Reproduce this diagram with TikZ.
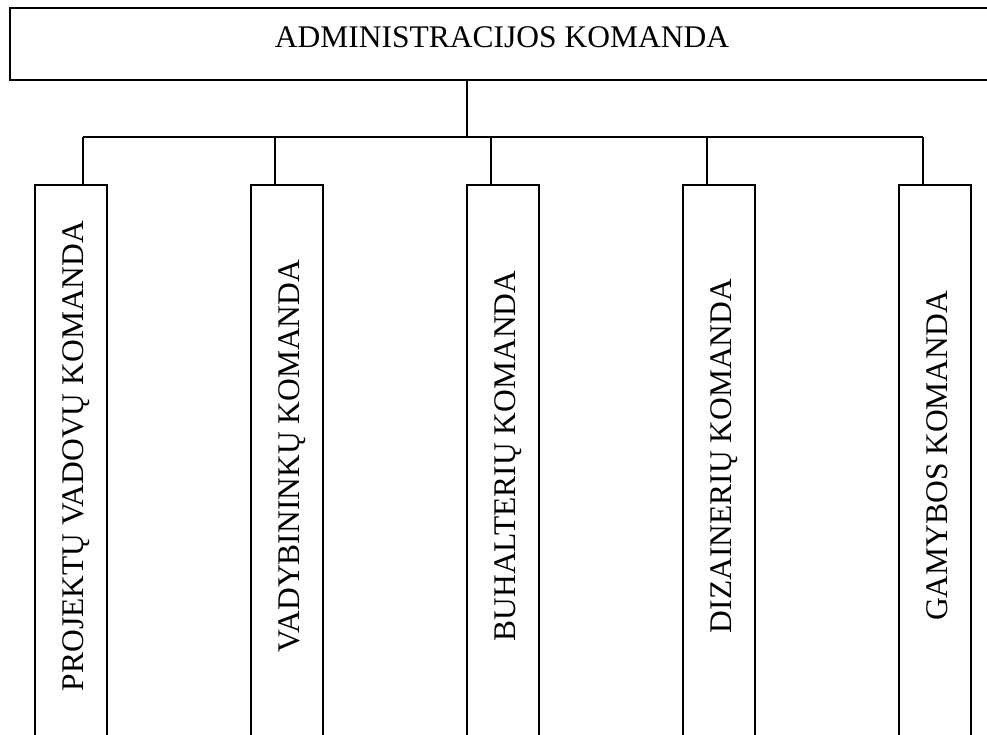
\documentclass[tikz,border=0pt]{standalone}
\usepackage{fontspec}
\setmainfont{Liberation Serif}
\begin{document}
\begin{tikzpicture}[x=1pt,y=-1pt,
  box/.style={draw=black,line width=1.6pt,inner sep=0pt},
  topbox/.style={box,minimum width=984pt,minimum height=72pt},
  team/.style={box,minimum width=72pt,minimum height=585pt},
  lbl/.style={inner sep=0pt,anchor=base,font=\fontsize{31.5}{36}\selectfont},
  vlbl/.style={lbl,rotate=90},
  link/.style={draw=black,line width=1.6pt}]
\useasboundingbox (0,0) rectangle (987,735);
\clip (0,0) rectangle (987,735);
\node[topbox] (top) at (502,44) {};
\node[lbl] (topl) at (502,47.5) {ADMINISTRACIJOS KOMANDA};
\coordinate (bus) at (467,137);
\node[team] (t1) at (71,477.5) {};
\node[team] (t2) at (287,477.5) {};
\node[team] (t3) at (503,477.5) {};
\node[team] (t4) at (719,477.5) {};
\node[team] (t5) at (935,477.5) {};
\node[vlbl] (l1) at (83.5,456) {PROJEKTŲ VADOVŲ KOMANDA};
\node[vlbl] (l2) at (299.5,456) {VADYBININKŲ KOMANDA};
\node[vlbl] (l3) at (515.5,456) {BUHALTERIŲ KOMANDA};
\node[vlbl] (l4) at (731.5,456) {DIZAINERIŲ KOMANDA};
\node[vlbl] (l5) at (947.5,456) {GAMYBOS KOMANDA};
\coordinate (b1) at (83,137);
\coordinate (b2) at (275,137);
\coordinate (b3) at (491,137);
\coordinate (b4) at (707,137);
\coordinate (b5) at (923,137);
\draw[link] (top.south -| bus) -- (bus);
\draw[link] (b1) -- (b5);
\draw[link] (b1) -- (b1 |- t1.north);
\draw[link] (b2) -- (b2 |- t2.north);
\draw[link] (b3) -- (b3 |- t3.north);
\draw[link] (b4) -- (b4 |- t4.north);
\draw[link] (b5) -- (b5 |- t5.north);
\end{tikzpicture}
\end{document}
